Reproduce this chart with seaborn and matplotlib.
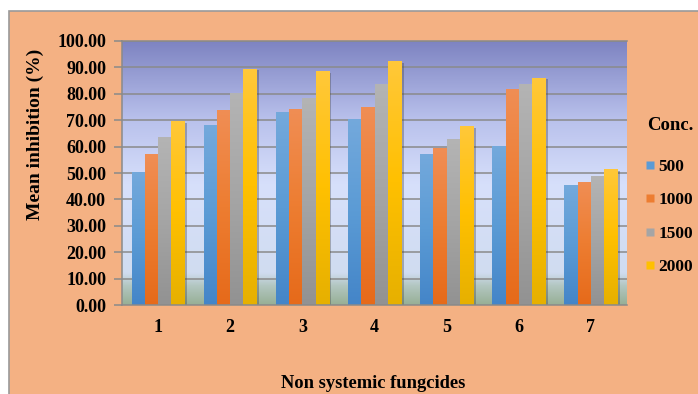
import numpy as np
import pandas as pd
import matplotlib
matplotlib.use("Agg")
import matplotlib.pyplot as plt
import matplotlib.patheffects as pe
from matplotlib.colors import LinearSegmentedColormap
from matplotlib.patches import Rectangle
from matplotlib.lines import Line2D
import seaborn as sns

# Mean inhibition (%) of each non systemic fungicide at four concentrations
fungicides = ["1", "2", "3", "4", "5", "6", "7"]
concentrations = ["500", "1000", "1500", "2000"]
inhib_500 = [50.5, 68.1, 73.2, 70.5, 57.2, 60.3, 45.6]
inhib_1000 = [57.2, 73.8, 74.2, 74.8, 59.6, 81.7, 46.7]
inhib_1500 = [63.6, 80.2, 78.3, 83.8, 63.0, 83.8, 48.9]
inhib_2000 = [69.7, 89.4, 88.4, 92.3, 67.8, 86.0, 51.4]
y_ticks = [0, 10, 20, 30, 40, 50, 60, 70, 80, 90, 100]

series = [inhib_500, inhib_1000, inhib_1500, inhib_2000]
df = pd.DataFrame({
    "Fungicide": [f for _ in concentrations for f in fungicides],
    "Conc.": [c for c in concentrations for _ in fungicides],
    "Inhibition": [v for s in series for v in s],
})

# base colour, top shade, bottom shade for each concentration
bar_colors = ["#5B9BD5", "#ED7D31", "#A5A5A5", "#FFC000"]
bar_tops = ["#74A9DC", "#F08E55", "#B4B4B4", "#FFC83A"]
bar_bottoms = ["#4485C8", "#E66A1A", "#929292", "#E6B000"]

sns.set_theme(style="white")
plt.rcParams["font.family"] = ["Liberation Serif", "DejaVu Serif"]
plt.rcParams["font.weight"] = "bold"
plt.rcParams["text.color"] = "black"
plt.rcParams["axes.labelcolor"] = "black"
plt.rcParams["xtick.color"] = "black"
plt.rcParams["ytick.color"] = "black"

peach = "#F4B183"
fig = plt.figure(figsize=(6.98, 3.94), dpi=100)
fig.patch.set_facecolor("white")
panel = Rectangle((9 / 698, -0.01), 1, 383 / 394 + 0.01, transform=fig.transFigure,
                  facecolor=peach, edgecolor="#9A9A9A", linewidth=1.2,
                  zorder=-10)
fig.add_artist(panel)

ax = fig.add_axes([122 / 698, 1 - 305.3 / 394, 505 / 698, 264.6 / 394])
ax.set_zorder(1)

sns.barplot(data=df, x="Fungicide", y="Inhibition", hue="Conc.",
            hue_order=concentrations, order=fungicides, palette=bar_colors,
            width=0.735, gap=0, saturation=1, ax=ax, legend=False,
            edgecolor="none", linewidth=0, zorder=3)

ax.set_xlim(-0.5, len(fungicides) - 0.5)
ax.set_ylim(0, 100)

# plot-area gradient: greenish floor, pale blue middle, violet-blue top
bg_cmap = LinearSegmentedColormap.from_list("plotbg", [
    (0.00, "#97AF95"), (0.07, "#B2C6C0"), (0.12, "#D0DCF0"),
    (0.45, "#D7E0FB"), (0.70, "#B9C1EC"), (1.00, "#7D83C1")])
grad = np.linspace(0, 1, 256).reshape(-1, 1)
ax.imshow(grad, cmap=bg_cmap, origin="lower", aspect="auto",
          extent=(-0.5, len(fungicides) - 0.5, 0, 100), zorder=0)

for yv in y_ticks[1:]:
    ax.axhline(yv, color="#8A8A8A", linewidth=1.1, zorder=1)

# vertical shading inside every bar, plus a soft drop shadow
n = len(fungicides)
for i, patch in enumerate(ax.patches):
    k = i // n
    x0, y0 = patch.get_x(), patch.get_y()
    w, h = patch.get_width(), patch.get_height()
    cm = LinearSegmentedColormap.from_list(
        "b%d" % k, [bar_bottoms[k], bar_colors[k], bar_tops[k]])
    img = ax.imshow(grad, cmap=cm, origin="lower", aspect="auto",
                    extent=(x0, x0 + w, y0, y0 + h), zorder=3.5)
    img.set_clip_path(patch)
    patch.set_path_effects([pe.SimplePatchShadow(offset=(1.8, -1.2),
                                                 shadow_rgbFace="#404040",
                                                 alpha=0.35), pe.Normal()])

ax.set_xlim(-0.5, len(fungicides) - 0.5)
ax.set_ylim(0, 100)

ax.spines["right"].set_visible(False)
for side in ["left", "bottom", "top"]:
    ax.spines[side].set_color("#8A8A8A")
    ax.spines[side].set_linewidth(1.1)
    ax.spines[side].set_zorder(5)

ax.set_yticks(y_ticks)
ax.set_yticklabels([f"{v:.2f}" for v in y_ticks], fontsize=13,
                   fontweight="bold", color="black")
ax.tick_params(axis="y", which="both", left=True, length=6, width=1.1,
               color="#8A8A8A", pad=5.5)
ax.tick_params(axis="x", which="both", bottom=False, pad=4)
ax.set_xticks(range(n))
ax.set_xticklabels(fungicides, fontsize=13, fontweight="bold", color="black")

ax.set_xlabel("")
ax.set_ylabel("")
fig.text(35 / 698, 1 - 134 / 394, "Mean inhibition (%)", rotation=90,
         ha="center", va="center", fontsize=14, fontweight="bold",
         color="black")
fig.text(373 / 698, 1 - 383 / 394, "Non systemic fungcides", ha="center",
         va="center", fontsize=13.3, fontweight="bold", color="black")

handles = [Line2D([], [], marker="s", linestyle="none", markersize=6,
                  markerfacecolor=c, markeredgecolor="none") for c in bar_colors]
leg = fig.legend(handles, concentrations, title="Conc.", loc="upper left",
                 bbox_to_anchor=(636 / 698, 1 - 108 / 394), frameon=False,
                 prop={"size": 12.5, "weight": "bold"},
                 title_fontproperties={"size": 13.5, "weight": "bold"},
                 handlelength=0.6, handletextpad=0.2, labelspacing=1.0,
                 borderpad=0, alignment="left")
leg._legend_box.sep = 18
for t in leg.get_texts():
    t.set_color("black")
title = leg.get_title()
title.set_color("black")
title.set_x(2)

fig.savefig("out.png", dpi=100, facecolor=fig.get_facecolor())
